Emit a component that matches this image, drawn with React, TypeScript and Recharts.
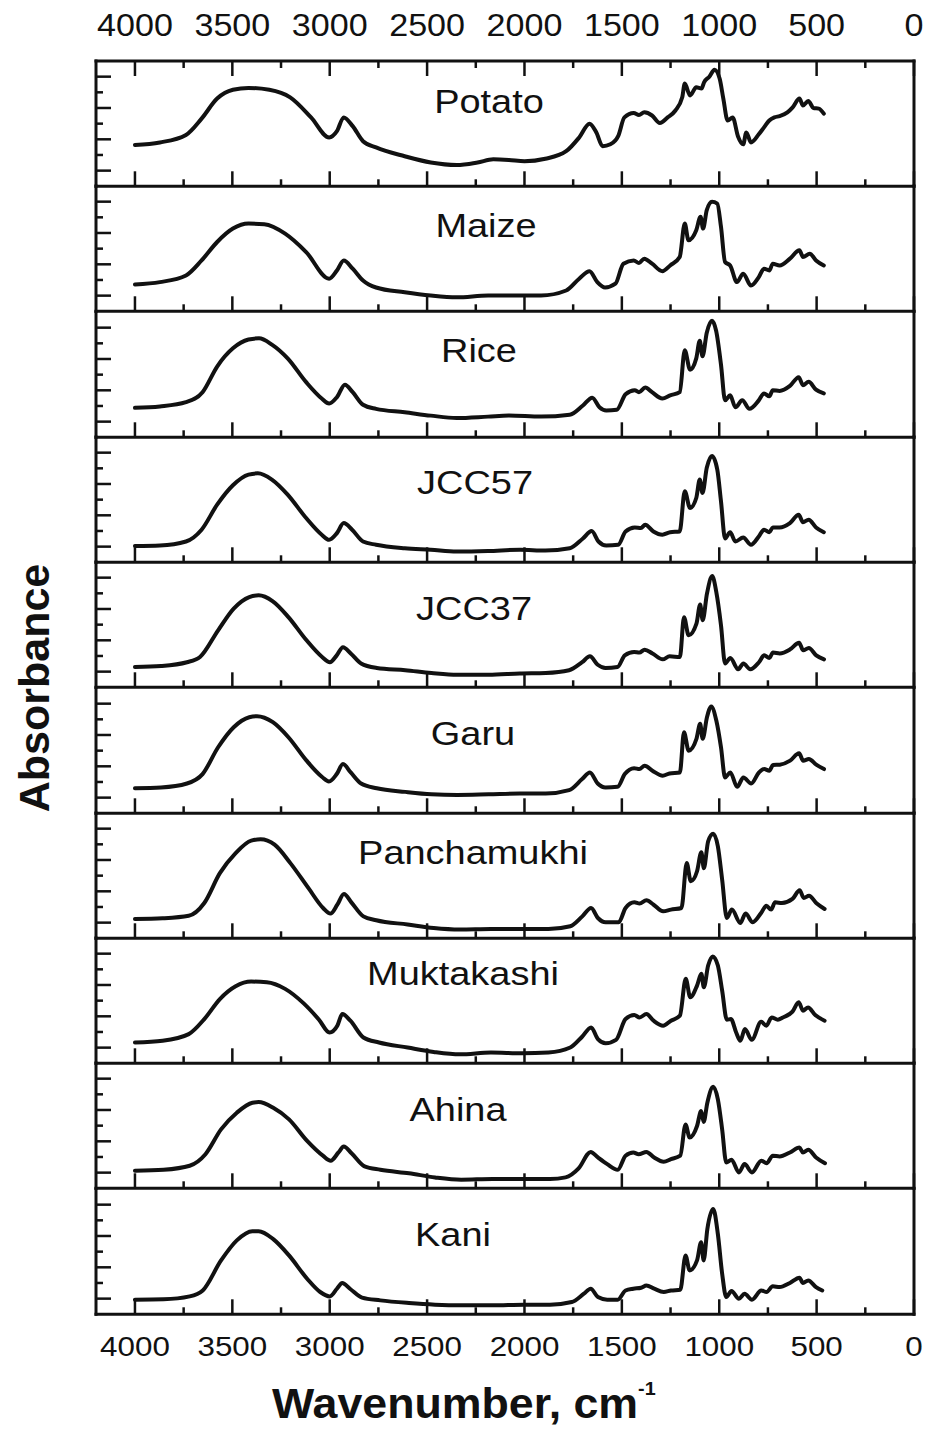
import React from 'react';
import { LineChart, Line, XAxis, YAxis, Customized } from 'recharts';

type Pt = [number, number];

// ---- data -----------------------------------------------------------------
const SAMPLE_NAMES = ['Potato', 'Maize', 'Rice', 'JCC57', 'JCC37', 'Garu', 'Panchamukhi', 'Muktakashi', 'Ahina', 'Kani'];

const WAVENUMBER_TICKS = [4000, 3750, 3500, 3250, 3000, 2750, 2500, 2250, 2000, 1750, 1500, 1250, 1000, 750, 500, 250, 0];
const ABSORBANCE_TICKS = [0.125, 0.25, 0.375, 0.5, 0.625, 0.75, 0.875];

// [wavenumber (cm-1), absorbance (a.u., panel-normalised)]
const potato: Pt[] = [[4000,0.33],[3872,0.35],[3738,0.41],[3658,0.54],[3578,0.70],[3497,0.77],[3417,0.785],[3310,0.77],[3203,0.71],[3096,0.55],[3003,0.39],[2963,0.44],[2928,0.55],[2882,0.48],[2829,0.36],[2762,0.31],[2615,0.24],[2481,0.19],[2348,0.17],[2241,0.19],[2160,0.215],[2080,0.21],[2000,0.20],[1893,0.22],[1786,0.28],[1719,0.39],[1666,0.50],[1631,0.43],[1599,0.32],[1559,0.335],[1519,0.40],[1487,0.55],[1439,0.585],[1412,0.57],[1385,0.59],[1345,0.565],[1305,0.505],[1265,0.55],[1225,0.605],[1190,0.71],[1177,0.82],[1150,0.725],[1118,0.79],[1091,0.78],[1078,0.83],[1051,0.875],[1024,0.93],[998,0.86],[979,0.70],[957,0.525],[931,0.55],[904,0.40],[877,0.335],[861,0.43],[837,0.35],[797,0.415],[770,0.47],[743,0.525],[717,0.55],[690,0.56],[650,0.59],[623,0.63],[588,0.70],[570,0.645],[543,0.68],[516,0.625],[489,0.62],[463,0.58]];

const maize: Pt[] = [[4000,0.214],[3872,0.233],[3738,0.286],[3658,0.406],[3578,0.553],[3497,0.66],[3417,0.70],[3336,0.695],[3229,0.62],[3121,0.473],[3003,0.26],[2963,0.326],[2928,0.406],[2882,0.34],[2829,0.246],[2762,0.19],[2615,0.152],[2481,0.126],[2348,0.112],[2187,0.126],[2080,0.126],[1915,0.126],[1786,0.166],[1719,0.26],[1666,0.32],[1626,0.233],[1586,0.19],[1533,0.22],[1492,0.38],[1439,0.406],[1412,0.385],[1385,0.42],[1345,0.38],[1292,0.32],[1252,0.366],[1203,0.433],[1177,0.70],[1158,0.567],[1118,0.647],[1096,0.754],[1083,0.66],[1064,0.807],[1037,0.874],[1010,0.86],[991,0.674],[970,0.393],[944,0.366],[909,0.233],[877,0.30],[837,0.206],[797,0.273],[770,0.34],[743,0.326],[725,0.38],[690,0.366],[637,0.42],[588,0.487],[570,0.433],[535,0.46],[503,0.406],[463,0.366]];

const rice: Pt[] = [[4000,0.235],[3872,0.246],[3738,0.28],[3653,0.36],[3578,0.565],[3497,0.71],[3417,0.78],[3363,0.79],[3297,0.74],[3216,0.63],[3121,0.44],[3041,0.31],[3003,0.27],[2963,0.32],[2922,0.42],[2882,0.36],[2829,0.26],[2762,0.227],[2615,0.20],[2481,0.173],[2348,0.154],[2187,0.165],[2080,0.173],[1915,0.165],[1768,0.18],[1700,0.254],[1652,0.316],[1615,0.24],[1580,0.214],[1526,0.22],[1481,0.343],[1434,0.376],[1412,0.36],[1380,0.397],[1345,0.36],[1292,0.31],[1252,0.335],[1203,0.36],[1177,0.695],[1150,0.54],[1118,0.63],[1100,0.77],[1086,0.646],[1064,0.835],[1037,0.93],[1016,0.85],[991,0.58],[970,0.295],[944,0.335],[917,0.24],[882,0.295],[845,0.227],[797,0.295],[770,0.35],[743,0.327],[725,0.376],[690,0.37],[637,0.41],[592,0.48],[570,0.416],[541,0.443],[503,0.38],[463,0.35]];

const jcc57: Pt[] = [[4000,0.13],[3872,0.134],[3738,0.166],[3658,0.26],[3578,0.46],[3497,0.615],[3417,0.70],[3369,0.71],[3297,0.66],[3216,0.54],[3121,0.353],[3041,0.22],[3003,0.18],[2963,0.233],[2928,0.313],[2885,0.26],[2829,0.166],[2762,0.14],[2615,0.112],[2481,0.10],[2348,0.086],[2187,0.09],[2022,0.10],[1893,0.094],[1768,0.112],[1700,0.19],[1655,0.25],[1620,0.166],[1580,0.134],[1519,0.14],[1481,0.246],[1434,0.278],[1402,0.273],[1380,0.30],[1338,0.246],[1292,0.22],[1252,0.24],[1203,0.246],[1177,0.567],[1150,0.433],[1118,0.513],[1100,0.66],[1086,0.553],[1064,0.754],[1037,0.848],[1010,0.74],[991,0.487],[970,0.19],[944,0.24],[917,0.166],[877,0.198],[837,0.14],[797,0.206],[770,0.26],[743,0.24],[725,0.278],[690,0.278],[637,0.313],[592,0.38],[570,0.32],[541,0.34],[503,0.278],[463,0.24]];

const jcc37: Pt[] = [[4000,0.162],[3866,0.17],[3733,0.20],[3666,0.242],[3573,0.455],[3493,0.628],[3413,0.72],[3365,0.734],[3292,0.686],[3212,0.56],[3119,0.375],[3039,0.242],[2999,0.20],[2964,0.255],[2932,0.32],[2892,0.27],[2839,0.19],[2758,0.154],[2612,0.136],[2478,0.114],[2345,0.10],[2184,0.10],[2024,0.11],[1891,0.114],[1771,0.136],[1704,0.20],[1664,0.247],[1624,0.18],[1584,0.154],[1522,0.162],[1485,0.255],[1437,0.282],[1410,0.277],[1383,0.30],[1343,0.27],[1290,0.223],[1255,0.247],[1202,0.242],[1181,0.56],[1157,0.415],[1117,0.508],[1098,0.66],[1085,0.535],[1063,0.747],[1036,0.888],[1015,0.76],[991,0.495],[970,0.19],[943,0.234],[903,0.144],[876,0.19],[841,0.144],[796,0.20],[769,0.255],[743,0.234],[724,0.277],[689,0.27],[636,0.303],[590,0.356],[569,0.295],[540,0.314],[502,0.255],[462,0.223]];

const garu: Pt[] = [[4000,0.20],[3866,0.206],[3733,0.238],[3653,0.313],[3573,0.527],[3493,0.687],[3413,0.767],[3373,0.775],[3292,0.727],[3212,0.607],[3119,0.42],[3039,0.29],[3004,0.254],[2964,0.313],[2932,0.393],[2892,0.326],[2839,0.238],[2758,0.20],[2612,0.171],[2478,0.152],[2345,0.147],[2184,0.152],[2024,0.158],[1891,0.158],[1771,0.185],[1704,0.273],[1664,0.326],[1624,0.238],[1584,0.206],[1522,0.211],[1485,0.313],[1437,0.36],[1410,0.353],[1383,0.38],[1343,0.34],[1290,0.30],[1255,0.318],[1202,0.326],[1181,0.647],[1157,0.50],[1117,0.594],[1098,0.714],[1085,0.594],[1063,0.767],[1041,0.853],[1015,0.74],[991,0.527],[970,0.286],[943,0.326],[908,0.211],[876,0.286],[836,0.238],[796,0.326],[769,0.353],[743,0.34],[724,0.385],[689,0.388],[636,0.42],[590,0.479],[569,0.42],[540,0.433],[502,0.388],[462,0.353]];

const panchamukhi: Pt[] = [[4000,0.154],[3858,0.16],[3724,0.18],[3644,0.282],[3564,0.52],[3483,0.68],[3403,0.78],[3355,0.79],[3283,0.747],[3202,0.60],[3109,0.40],[3034,0.242],[2996,0.197],[2961,0.268],[2927,0.354],[2889,0.287],[2827,0.175],[2761,0.144],[2600,0.11],[2466,0.082],[2332,0.07],[2172,0.074],[2011,0.074],[1877,0.074],[1765,0.096],[1703,0.175],[1658,0.242],[1623,0.162],[1583,0.128],[1516,0.128],[1481,0.242],[1436,0.287],[1409,0.277],[1374,0.303],[1337,0.268],[1288,0.215],[1248,0.229],[1194,0.242],[1167,0.60],[1146,0.455],[1114,0.535],[1092,0.686],[1079,0.56],[1057,0.774],[1031,0.835],[1007,0.734],[985,0.468],[961,0.162],[935,0.229],[892,0.122],[865,0.197],[828,0.128],[785,0.202],[758,0.26],[734,0.229],[713,0.287],[678,0.282],[624,0.314],[587,0.383],[566,0.322],[539,0.34],[499,0.277],[459,0.234]];

const muktakashi: Pt[] = [[4000,0.166],[3858,0.18],[3724,0.233],[3644,0.353],[3564,0.513],[3483,0.615],[3403,0.652],[3323,0.647],[3229,0.594],[3135,0.48],[3055,0.348],[3001,0.246],[2961,0.30],[2935,0.393],[2894,0.34],[2827,0.206],[2747,0.166],[2600,0.126],[2466,0.091],[2332,0.072],[2172,0.086],[2011,0.08],[1877,0.086],[1765,0.126],[1703,0.214],[1658,0.286],[1623,0.193],[1583,0.16],[1530,0.187],[1481,0.353],[1436,0.385],[1409,0.366],[1374,0.393],[1337,0.34],[1288,0.30],[1248,0.34],[1202,0.38],[1172,0.674],[1149,0.527],[1114,0.62],[1092,0.714],[1079,0.607],[1057,0.78],[1033,0.853],[1007,0.78],[985,0.58],[961,0.348],[940,0.353],[913,0.246],[892,0.18],[868,0.273],[833,0.187],[785,0.332],[758,0.30],[731,0.366],[699,0.348],[673,0.366],[624,0.412],[592,0.487],[570,0.42],[544,0.446],[507,0.385],[459,0.34]];

const ahina: Pt[] = [[4000,0.14],[3853,0.148],[3719,0.18],[3638,0.272],[3558,0.47],[3477,0.603],[3397,0.683],[3365,0.688],[3290,0.643],[3209,0.55],[3116,0.378],[3035,0.26],[2995,0.22],[2955,0.286],[2928,0.333],[2888,0.28],[2821,0.175],[2740,0.148],[2593,0.12],[2459,0.087],[2325,0.069],[2164,0.074],[2003,0.074],[1869,0.074],[1789,0.087],[1722,0.159],[1660,0.29],[1623,0.246],[1575,0.193],[1521,0.148],[1481,0.26],[1441,0.286],[1414,0.272],[1374,0.29],[1334,0.246],[1285,0.212],[1248,0.233],[1200,0.26],[1173,0.51],[1152,0.405],[1114,0.497],[1093,0.616],[1080,0.53],[1061,0.683],[1031,0.81],[1007,0.71],[985,0.47],[964,0.206],[937,0.228],[899,0.127],[870,0.193],[832,0.127],[784,0.22],[757,0.20],[725,0.26],[690,0.254],[637,0.286],[588,0.325],[570,0.286],[543,0.307],[503,0.246],[457,0.20]];

const kani: Pt[] = [[4000,0.117],[3853,0.12],[3719,0.143],[3652,0.19],[3558,0.43],[3477,0.59],[3397,0.663],[3365,0.663],[3290,0.60],[3209,0.47],[3116,0.284],[3049,0.178],[3000,0.143],[2963,0.204],[2936,0.25],[2896,0.204],[2834,0.133],[2740,0.111],[2593,0.09],[2459,0.077],[2325,0.072],[2164,0.072],[2003,0.077],[1869,0.077],[1757,0.098],[1695,0.164],[1660,0.204],[1623,0.138],[1575,0.117],[1521,0.117],[1481,0.19],[1441,0.204],[1401,0.212],[1374,0.23],[1334,0.204],[1285,0.178],[1248,0.19],[1200,0.196],[1173,0.47],[1152,0.35],[1114,0.43],[1093,0.575],[1080,0.43],[1061,0.68],[1031,0.84],[1007,0.64],[985,0.324],[964,0.138],[937,0.186],[899,0.125],[870,0.164],[832,0.117],[784,0.19],[757,0.178],[725,0.223],[690,0.217],[637,0.25],[588,0.292],[570,0.25],[543,0.27],[503,0.217],[471,0.19]];

const SPECTRA: Pt[][] = [potato, maize, rice, jcc57, jcc37, garu, panchamukhi, muktakashi, ahina, kani];

// ---- layout ---------------------------------------------------------------
const W = 930;
const H = 1429;
const PLOT_LEFT = 96;
const PLOT_RIGHT = 914;
const PLOT_TOP = 61;
const PANEL_H = 125.3;
const M_TOP = 60;
const M_BOTTOM = 72;
const AXIS_BAND = 1; // thickness reserved by each axis (axes with zero size are not drawn)
const X_DOMAIN: [number, number] = [0, 4200];

// sample-name placement: horizontal centre and baseline (page coordinates)
const NAME_POS = [
  { cx: 489, base: 113 }, { cx: 486, base: 237 }, { cx: 479, base: 362 },
  { cx: 475, base: 494 }, { cx: 474, base: 620 }, { cx: 473, base: 745 },
  { cx: 473, base: 864 }, { cx: 463, base: 985 }, { cx: 458, base: 1121 },
  { cx: 453, base: 1246 },
];

const INK = '#111';
const FONT = 'Arial, "Liberation Sans", Helvetica, sans-serif';
const FRAME = { stroke: INK, strokeWidth: 3, strokeLinecap: 'square' as const };

function makeXTick(side: 'top' | 'bottom', marks: boolean, labelled: boolean) {
  return (props: any) => {
    const { x, y, payload } = props;
    if (!marks) return <g />;
    const v = payload.value as number;
    const major = v % 500 === 0;
    const len = major ? 15 : 7;
    const dir = side === 'bottom' ? -1 : 1;
    const ty = side === 'bottom' ? y + 42 : y - 25;
    const fs = side === 'bottom' ? 28.5 : 31;
    return (
      <g>
        <line x1={x} x2={x} y1={y} y2={y + dir * len} stroke={INK} strokeWidth={2.5} />
        {labelled && major && (
          <text transform={`translate(${x},${ty}) scale(1.1,1)`} textAnchor="middle"
            fontSize={fs} fontFamily={FONT} fill={INK}>{v}</text>
        )}
      </g>
    );
  };
}

function makeYTick(side: 'left' | 'right') {
  return (props: any) => {
    const { x, y, payload } = props;
    const k = Math.round((payload.value as number) * 8);
    const len = k % 2 === 1 ? 15 : 7;
    const dir = side === 'left' ? 1 : -1;
    return <line x1={x} x2={x + dir * len} y1={y} y2={y} stroke={INK} strokeWidth={2.5} />;
  };
}

function Panel({ index }: { index: number }) {
  const rows = SPECTRA[index].map(([wn, a]) => ({ wn, a }));
  const isFirst = index === 0;
  const isLast = index === SPECTRA.length - 1;
  const chartTop = PLOT_TOP + index * PANEL_H - M_TOP;
  const pos = NAME_POS[index];
  const name = SAMPLE_NAMES[index];
  const NameText = () => (
    <text transform={`translate(${pos.cx},${pos.base - chartTop}) scale(1.15,1)`} textAnchor="middle"
      fontSize={33} fontFamily={FONT} fill={INK}>{name}</text>
  );
  return (
    <div style={{ position: 'absolute', left: 0, top: chartTop }}>
      <LineChart width={W} height={PANEL_H + M_TOP + M_BOTTOM} data={rows}
        margin={{
          top: M_TOP - AXIS_BAND, bottom: M_BOTTOM - AXIS_BAND,
          left: PLOT_LEFT - AXIS_BAND, right: W - PLOT_RIGHT - AXIS_BAND,
        }}>
        <XAxis xAxisId="bottom" dataKey="wn" type="number" domain={X_DOMAIN} reversed
          ticks={WAVENUMBER_TICKS} interval={0} height={AXIS_BAND} tickSize={0} tickMargin={0}
          tickLine={false} axisLine={FRAME} tick={makeXTick('bottom', true, isLast)} />
        <XAxis xAxisId="top" orientation="top" dataKey="wn" type="number" domain={X_DOMAIN} reversed
          ticks={WAVENUMBER_TICKS} interval={0} height={AXIS_BAND} tickSize={0} tickMargin={0}
          tickLine={false} axisLine={isFirst ? FRAME : false} tick={makeXTick('top', isFirst, isFirst)} />
        <YAxis yAxisId="left" type="number" domain={[0, 1]} ticks={ABSORBANCE_TICKS} interval={0}
          width={AXIS_BAND} tickSize={0} tickMargin={0} tickLine={false} axisLine={FRAME} tick={makeYTick('left')} />
        <YAxis yAxisId="right" orientation="right" type="number" domain={[0, 1]} ticks={ABSORBANCE_TICKS}
          interval={0} width={AXIS_BAND} tickSize={0} tickMargin={0} tickLine={false} axisLine={FRAME}
          tick={makeYTick('right')} />
        <Line xAxisId="bottom" yAxisId="left" dataKey="a" type="monotone" stroke={INK} strokeWidth={4}
          strokeLinejoin="round" strokeLinecap="round" dot={false} activeDot={false} isAnimationActive={false} />
        <Customized component={NameText} />
      </LineChart>
    </div>
  );
}

export default function App() {
  return (
    <div style={{ position: 'absolute', left: 0, top: 0, width: W, height: H, background: '#fff', overflow: 'hidden' }}>
      {SPECTRA.map((_, i) => <Panel key={SAMPLE_NAMES[i]} index={i} />)}
      <svg width={W} height={H} style={{ position: 'absolute', left: 0, top: 0, pointerEvents: 'none' }}>
        <text transform="translate(49,688) rotate(-90)" textAnchor="middle" fontSize={43}
          fontWeight="bold" fontFamily={FONT} fill={INK}>Absorbance</text>
        <text transform="translate(272,1418) scale(1.04,1)" fontSize={43} fontWeight="bold"
          fontFamily={FONT} fill={INK}>
          Wavenumber, cm<tspan fontSize={19} dy={-23}>-1</tspan>
        </text>
      </svg>
    </div>
  );
}
